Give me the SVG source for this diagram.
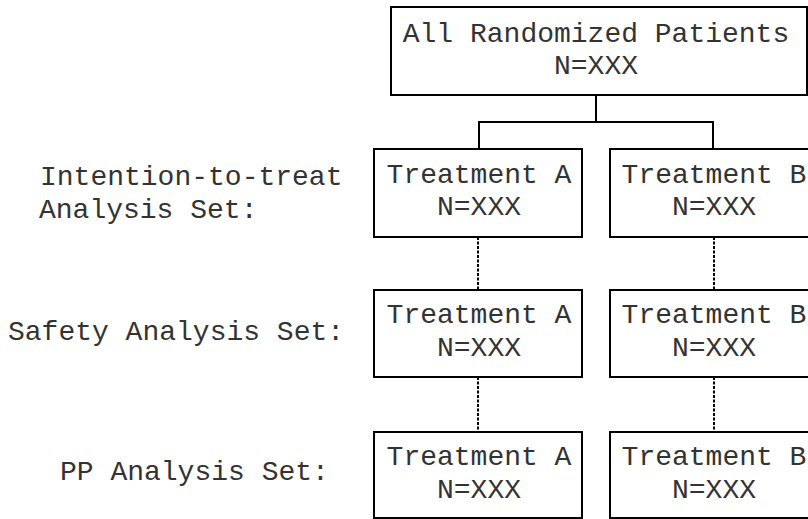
<svg xmlns="http://www.w3.org/2000/svg" width="808" height="519" viewBox="0 0 808 519">
<style>
.box{fill:#fff;stroke:#000;stroke-width:2}
.t{font-family:"Liberation Mono","Courier New",monospace;font-size:28px;fill:#333}
.c{text-anchor:middle}
.solid{fill:none;stroke:#000;stroke-width:2}
.dot{fill:none;stroke:#000;stroke-width:2;stroke-dasharray:3 1.5}
</style>
<rect width="808" height="519" fill="#fff"/>
<g id="connectors">
<path class="solid" d="M596 95V122M479 148V122H713V148"/>
<path class="dot" d="M478 237V290M714 237V290M478 377V432M714 377V432"/>
</g>
<g id="all"><rect class="box" x="391" y="7" width="416" height="88"/><text class="t c" x="596" y="42">All Randomized Patients</text><text class="t c" x="596" y="74">N=XXX</text></g>
<g id="itt-a"><rect class="box" x="374" y="149" width="208" height="88"/><text class="t c" x="479" y="183">Treatment A</text><text class="t c" x="479" y="215">N=XXX</text></g>
<g id="itt-b"><rect class="box" x="610" y="149" width="208" height="88"/><text class="t c" x="714" y="183">Treatment B</text><text class="t c" x="714" y="215">N=XXX</text></g>
<g id="saf-a"><rect class="box" x="374" y="290" width="208" height="87"/><text class="t c" x="479" y="323">Treatment A</text><text class="t c" x="479" y="356">N=XXX</text></g>
<g id="saf-b"><rect class="box" x="610" y="290" width="208" height="87"/><text class="t c" x="714" y="323">Treatment B</text><text class="t c" x="714" y="356">N=XXX</text></g>
<g id="pp-a"><rect class="box" x="374" y="432" width="208" height="86"/><text class="t c" x="479" y="465">Treatment A</text><text class="t c" x="479" y="498">N=XXX</text></g>
<g id="pp-b"><rect class="box" x="610" y="432" width="208" height="86"/><text class="t c" x="714" y="465">Treatment B</text><text class="t c" x="714" y="498">N=XXX</text></g>
<g id="labels">
<text class="t" x="40" y="185">Intention-to-treat</text>
<text class="t" x="39" y="218">Analysis Set:</text>
<text class="t" x="8" y="340">Safety Analysis Set:</text>
<text class="t" x="60" y="480">PP Analysis Set:</text>
</g>
</svg>
